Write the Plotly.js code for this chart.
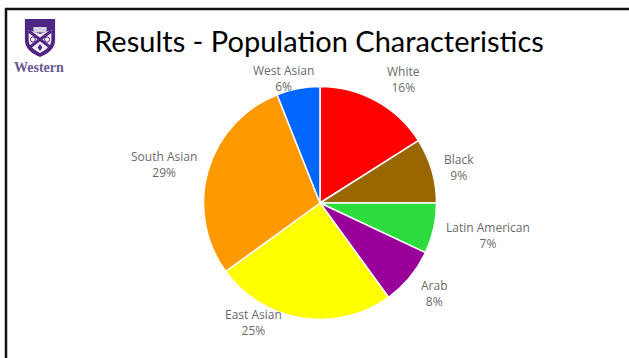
<!DOCTYPE html>
<html>
<head>
<meta charset="utf-8">
<script src="https://cdn.plot.ly/plotly-3.0.1.min.js"></script>
<style>
  html, body { margin: 0; padding: 0; background: #fff; overflow: hidden; }
  #chart { width: 629px; height: 358px; }
</style>
</head>
<body>
<div id="chart"></div>
<script>
// Population groups, clockwise from twelve o'clock
const groups = ['White', 'Black', 'Latin American', 'Arab', 'East Asian', 'South Asian', 'West Asian'];
const shares = [16, 9, 7, 8, 25, 29, 6];
const sliceColors = ['#ff0000', '#996600', '#2cdb3c', '#990099', '#ffff00', '#ff9900', '#0066ff'];
// Label centres in pixels of the 629x358 slide
const labelX = [403, 459, 488, 434, 253, 164, 283];
const labelY = [79.5, 167.5, 235.5, 293.5, 322.5, 164.5, 78.5];

const W = 629, H = 358;
const px = x => x / W;
const py = y => 1 - y / H;

// University crest, drawn as a small inline vector
const crest = `<svg xmlns="http://www.w3.org/2000/svg" viewBox="0 0 36 40">
<path d="M2 1H34V22C34 31 26 36 18 39C10 36 2 31 2 22Z" fill="#4f2683"/>
<path d="M6 12L18 16L30 12V22C30 28 24 32 18 35C12 32 6 28 6 22Z" fill="#f4f1f7"/>
<path d="M6 13L30 30M30 13L6 30" stroke="#4f2683" stroke-width="3"/>
<rect x="11" y="9" width="14" height="5.5" fill="#d8d2e2"/>
<circle cx="10.5" cy="21.5" r="2.6" fill="none" stroke="#4f2683"/>
<circle cx="25.5" cy="21.5" r="2.6" fill="none" stroke="#4f2683"/>
<path d="M18 26L20.5 29.5L18 33L15.5 29.5Z" fill="#4f2683"/>
</svg>`;

const annotations = groups.map((g, i) => ({
  xref: 'paper', yref: 'paper',
  x: px(labelX[i]), y: py(labelY[i]),
  text: g + '<br>' + shares[i] + '%',
  showarrow: false,
  xanchor: 'center', yanchor: 'middle',
  align: 'center',
  font: { family: 'Open Sans, sans-serif', size: 12, color: '#6b6b6b' }
}));

// Wordmark under the crest
annotations.push({
  xref: 'paper', yref: 'paper',
  x: px(39), y: py(67),
  text: '<b>Western</b>',
  showarrow: false,
  xanchor: 'center', yanchor: 'middle',
  font: { family: 'Liberation Serif, serif', size: 14, color: '#6a5a8f' }
});

const trace = {
  type: 'pie',
  labels: groups,
  values: shares,
  sort: false,
  direction: 'clockwise',
  rotation: 0,
  textinfo: 'none',
  hoverinfo: 'label+percent',
  marker: { colors: sliceColors, line: { color: '#ffffff', width: 1.5 } },
  domain: { x: [px(203.5), px(436.5)], y: [py(319.5), py(86.5)] },
  showlegend: false
};

const layout = {
  width: W, height: H,
  margin: { l: 0, r: 0, t: 0, b: 0 },
  paper_bgcolor: '#ffffff',
  showlegend: false,
  title: {
    text: 'Results - Population Characteristics',
    x: px(319), xanchor: 'center',
    y: py(42), yanchor: 'middle',
    font: { family: 'Lato, sans-serif', size: 29, color: '#000000' }
  },
  annotations: annotations,
  shapes: [
    // Slide frame: top and left edges only
    { type: 'line', xref: 'paper', yref: 'paper', x0: px(5), x1: 1, y0: py(9), y1: py(9), line: { color: '#111', width: 2.5 } },
    { type: 'line', xref: 'paper', yref: 'paper', x0: px(6), x1: px(6), y0: py(8), y1: 0, line: { color: '#111', width: 2.5 } }
  ],
  images: [{
    source: 'data:image/svg+xml;utf8,' + encodeURIComponent(crest),
    xref: 'paper', yref: 'paper',
    x: px(23), y: py(18), sizex: px(34), sizey: 40 / H,
    xanchor: 'left', yanchor: 'top', sizing: 'stretch', layer: 'above'
  }]
};

Plotly.newPlot('chart', [trace], layout, { staticPlot: true, displayModeBar: false });
</script>
</body>
</html>
